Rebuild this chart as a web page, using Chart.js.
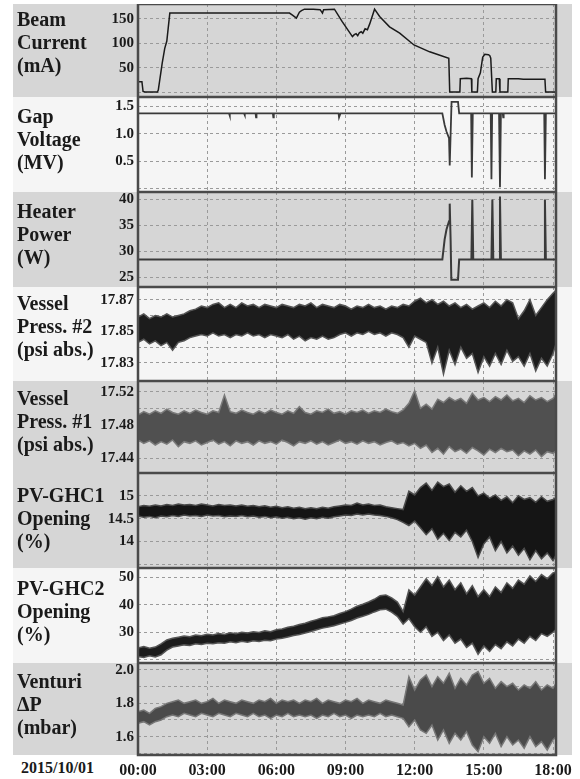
<!DOCTYPE html>
<html><head><meta charset="utf-8">
<script src="https://cdn.jsdelivr.net/npm/chart.js@4.4.1/dist/chart.umd.min.js"></script>
<style>
body{margin:0;background:#fff;width:580px;height:779px;position:relative;overflow:hidden;font-family:"Liberation Serif",serif;}
.panel{position:absolute;left:13px;width:559px;z-index:0}
.lab{position:absolute;left:17px;font:bold 20px/23px "Liberation Serif",serif;color:#1a1a1a;white-space:pre;z-index:2}
canvas{position:absolute;left:13px;z-index:1}
#date{position:absolute;left:21px;top:759px;font:bold 16px "Liberation Serif",serif;color:#1a1a1a}
</style></head><body>
<div id="date">2015/10/01</div>
<script>
// ---------- data ----------
const panelNames = ["Beam\nCurrent\n(mA)","Gap\nVoltage\n(MV)","Heater\nPower\n(W)","Vessel\nPress. #2\n(psi abs.)","Vessel\nPress. #1\n(psi abs.)","PV-GHC1\nOpening\n(%)","PV-GHC2\nOpening\n(%)","Venturi\nΔP\n(mbar)"];
const hourTicks = [0,3,6,9,12,15,18];
const hourLabels = ["00:00","03:00","06:00","09:00","12:00","15:00","18:00"];

const beamT = [0,0.17,0.22,0.3,0.84,0.88,1.05,1.16,1.25,1.38,3.0,5.0,6.57,6.7,6.87,7.0,7.09,7.22,7.6,7.9,8.0,8.05,8.52,8.85,9.30,9.38,9.46,9.53,9.6,9.68,9.75,9.85,9.95,10.05,10.26,10.48,10.91,11.35,11.97,12.65,13.48,13.52,13.96,13.98,14.25,14.46,14.48,14.72,14.75,14.85,14.95,15.04,15.2,15.26,15.3,15.37,15.52,15.54,15.67,15.70,16.04,16.06,16.5,16.71,17.65,17.68,18.13];
const beamV = [22,22,2,1,1,5,60,90,105,162,162,162,162,158,152,164,167,170,170,169,162,169,170,145,114,118,120,116,122,124,121,130,128,140,170,155,134,121,97,83,70,1,1,28,29,28,1,1,28,40,72,78,77,75,70,1,1,28,28,1,1,28,28,27,27,1,1];

const gapT = [0,3.95,3.97,3.99,4.6,4.62,4.64,5.1,5.12,5.14,5.85,5.87,5.89,8.7,8.72,8.76,8.78,13.2,13.3,13.38,13.49,13.52,13.56,13.6,13.88,13.93,14.45,14.48,14.52,15.30,15.33,15.36,15.66,15.70,15.74,15.82,15.84,15.86,17.62,17.65,17.69,18.13];
const gapV = [1.37,1.37,1.33,1.37,1.37,1.34,1.37,1.37,1.30,1.37,1.37,1.30,1.37,1.37,1.30,1.30,1.37,1.37,1.16,1.04,0.92,0.42,1.0,1.58,1.58,1.37,1.37,0.2,1.37,1.37,0.17,1.37,1.37,0.02,1.37,1.37,1.30,1.37,1.37,0.17,1.37,1.37];

const heatT = [0,13.2,13.3,13.38,13.49,13.52,13.56,13.59,13.88,13.93,14.46,14.5,14.54,15.33,15.37,15.41,15.66,15.70,15.74,17.61,17.65,17.69,18.13];
const heatV = [28.4,28.4,32.3,34.2,35.8,39.2,32,24.5,24.5,28.4,28.4,40,28.4,28.4,40,28.4,28.4,40.6,28.4,28.4,40,28.4,28.4];

const times = [0,0.25,0.5,0.75,1,1.25,1.5,1.75,2,2.25,2.5,2.75,3,3.25,3.5,3.75,4,4.25,4.5,4.75,5,5.25,5.5,5.75,6,6.25,6.5,6.75,7,7.25,7.5,7.75,8,8.25,8.5,8.75,9,9.25,9.5,9.75,10,10.25,10.5,10.75,11,11.25,11.5,11.75,12,12.25,12.5,12.75,13,13.25,13.5,13.75,14,14.25,14.5,14.75,15,15.25,15.5,15.75,16,16.25,16.5,16.75,17,17.25,17.5,17.75,18,18.13];

const vp2Hi = [17.859,17.861,17.858,17.860,17.859,17.861,17.859,17.860,17.861,17.863,
17.864,17.866,17.865,17.867,17.868,17.865,17.867,17.865,17.868,17.866,
17.867,17.865,17.867,17.866,17.865,17.867,17.866,17.865,17.867,17.866,
17.868,17.865,17.867,17.866,17.865,17.867,17.866,17.864,17.866,17.865,
17.867,17.865,17.866,17.864,17.866,17.865,17.867,17.866,17.869,17.871,
17.868,17.870,17.867,17.869,17.866,17.868,17.865,17.867,17.864,17.866,
17.868,17.865,17.869,17.866,17.870,17.868,17.858,17.863,17.870,17.860,
17.865,17.870,17.874,17.876];
const vp2Lo = [17.843,17.845,17.842,17.844,17.841,17.843,17.838,17.843,17.844,17.846,
17.847,17.848,17.847,17.849,17.847,17.848,17.846,17.848,17.847,17.849,
17.847,17.848,17.846,17.848,17.847,17.846,17.848,17.845,17.847,17.844,
17.846,17.845,17.847,17.845,17.846,17.848,17.849,17.847,17.849,17.848,
17.850,17.848,17.849,17.847,17.849,17.848,17.846,17.840,17.847,17.845,
17.843,17.830,17.840,17.823,17.838,17.829,17.840,17.833,17.836,17.824,
17.834,17.828,17.836,17.829,17.838,17.831,17.834,17.828,17.836,17.825,
17.833,17.828,17.836,17.842];

const vp1Hi = [17.492,17.496,17.493,17.497,17.494,17.499,17.495,17.493,17.497,17.494,
17.498,17.495,17.493,17.497,17.495,17.516,17.496,17.494,17.498,17.495,
17.493,17.497,17.494,17.498,17.495,17.493,17.497,17.494,17.502,17.495,
17.493,17.497,17.495,17.499,17.494,17.496,17.493,17.497,17.495,17.498,
17.494,17.497,17.495,17.499,17.496,17.494,17.498,17.506,17.521,17.500,
17.505,17.499,17.511,17.507,17.513,17.509,17.512,17.506,17.518,17.510,
17.513,17.508,17.514,17.510,17.516,17.509,17.512,17.507,17.515,17.510,
17.513,17.508,17.512,17.517];
const vp1Lo = [17.462,17.458,17.461,17.456,17.460,17.457,17.462,17.454,17.460,17.458,
17.461,17.456,17.459,17.462,17.457,17.460,17.455,17.461,17.458,17.460,
17.456,17.461,17.458,17.460,17.457,17.462,17.459,17.455,17.460,17.458,
17.461,17.457,17.460,17.456,17.459,17.462,17.458,17.460,17.457,17.461,
17.458,17.460,17.456,17.459,17.461,17.457,17.459,17.455,17.458,17.452,
17.456,17.447,17.452,17.445,17.454,17.448,17.451,17.446,17.453,17.449,
17.444,17.451,17.447,17.452,17.448,17.450,17.443,17.449,17.445,17.450,
17.442,17.448,17.446,17.449];

const ghc1Hi = [14.76,14.79,14.77,14.80,14.78,14.81,14.79,14.82,14.80,14.81,
14.79,14.82,14.80,14.78,14.81,14.79,14.80,14.78,14.80,14.77,
14.79,14.76,14.78,14.75,14.77,14.74,14.76,14.73,14.75,14.72,
14.74,14.72,14.75,14.73,14.76,14.78,14.80,14.79,14.84,14.80,
14.82,14.79,14.80,14.76,14.74,14.72,14.70,15.10,15.02,15.18,
15.28,15.12,15.30,15.20,15.26,15.08,15.22,15.10,15.18,15.00,
15.06,14.95,15.02,14.90,14.98,14.85,15.00,14.92,14.96,14.86,
14.98,14.88,14.92,14.96];
const ghc1Lo = [14.56,14.53,14.55,14.52,14.56,14.54,14.57,14.55,14.58,14.56,
14.57,14.55,14.58,14.56,14.57,14.54,14.56,14.55,14.57,14.54,
14.56,14.53,14.55,14.52,14.54,14.51,14.53,14.50,14.52,14.49,
14.52,14.50,14.53,14.51,14.54,14.56,14.58,14.57,14.60,14.58,
14.60,14.58,14.57,14.55,14.52,14.48,14.42,14.35,14.45,14.30,
14.15,14.28,14.05,14.18,14.02,14.20,14.10,14.25,14.00,13.65,
13.95,14.10,13.80,14.00,13.75,13.90,13.70,13.85,13.60,13.80,
13.62,13.75,13.58,13.70];

const ghc2Hi = [24.3,24.8,24.2,24.6,25.8,27.2,27.8,28.2,28.6,28.4,
29.0,28.7,29.3,29.0,29.5,29.2,29.8,29.5,30.0,29.7,
30.2,29.9,30.5,30.2,30.9,31.2,31.8,32.2,32.8,33.3,
34.0,34.6,35.3,35.6,36.0,36.8,37.5,38.4,39.5,40.2,
41.0,42.0,43.3,43.6,42.5,41.0,37.5,45.4,43.5,46.5,
49.5,47.0,50.2,46.5,49.0,45.5,48.0,44.0,47.0,43.0,
45.5,43.0,46.5,44.5,48.0,46.0,49.0,47.5,50.5,48.5,
51.0,49.5,51.6,52.0];
const ghc2Lo = [21.2,20.8,21.4,21.0,21.8,23.5,24.6,25.0,25.4,25.2,
25.8,25.5,26.0,25.8,26.2,26.0,26.5,26.2,26.7,26.4,
26.9,26.6,27.1,26.9,27.5,27.8,28.3,28.8,29.2,29.7,
30.3,30.9,31.5,31.9,32.4,33.0,33.6,34.3,35.2,35.8,
36.5,37.4,38.2,38.4,37.3,35.8,33.0,35.0,32.0,30.0,
32.0,28.5,30.0,27.0,29.0,26.0,27.5,24.5,26.0,22.0,
25.0,23.0,25.5,24.0,26.5,25.0,27.5,26.0,28.5,27.0,
29.5,28.5,30.0,31.0];

const ventHi = [1.75,1.76,1.74,1.77,1.78,1.80,1.81,1.82,1.80,1.81,
1.82,1.80,1.81,1.83,1.80,1.82,1.81,1.80,1.82,1.81,
1.80,1.82,1.81,1.83,1.80,1.82,1.81,1.82,1.80,1.82,
1.81,1.83,1.80,1.82,1.81,1.80,1.82,1.81,1.83,1.80,
1.82,1.81,1.80,1.82,1.81,1.80,1.79,1.96,1.88,1.94,
1.97,1.90,1.96,1.92,1.98,1.89,1.95,1.91,1.97,1.99,
1.92,1.95,1.89,1.93,1.90,1.92,1.88,1.91,1.89,1.93,
1.88,1.91,1.89,1.92];
const ventLo = [1.68,1.69,1.67,1.69,1.70,1.72,1.73,1.72,1.74,1.73,
1.72,1.74,1.73,1.72,1.74,1.73,1.72,1.74,1.73,1.72,
1.74,1.72,1.73,1.71,1.73,1.72,1.74,1.72,1.73,1.72,
1.73,1.71,1.73,1.72,1.74,1.72,1.73,1.71,1.73,1.72,
1.73,1.72,1.74,1.72,1.73,1.72,1.71,1.66,1.70,1.64,
1.62,1.67,1.58,1.64,1.56,1.62,1.58,1.63,1.55,1.51,
1.60,1.56,1.62,1.54,1.60,1.55,1.58,1.53,1.60,1.54,
1.57,1.52,1.58,1.60];

const gridVals = [[0,50,100,150],[0,0.5,1,1.5],[25,30,35,40],[17.83,17.84,17.85,17.86,17.87],[17.44,17.46,17.48,17.50,17.52],[13.5,14,14.5,15],[20,30,40,50],[1.5,1.6,1.7,1.8,1.9,2.0]];
const gridLabels = [["","50","100","150"],["","0.5","1.0","1.5"],["25","30","35","40"],["17.83","","17.85","","17.87"],["17.44","","17.48","","17.52"],["","14","14.5","15"],["","30","40","50"],["","1.6","","1.8","","2.0"]];

// ---------- layout / style ----------
const G = '#d6d6d6', L = '#f5f5f5';
const panels = [
 {top:4,  h:93, bg:G, lab:7.7,   min:-9.2,    max:180.6,   series:[beamT,beamV], color:'#1a1a1a', w:1.5},
 {top:97, h:95, bg:L, lab:104.7, min:-0.065,  max:1.67,    series:[gapT,gapV],   color:'#3a3a3a', w:1.8},
 {top:192,h:95, bg:G, lab:199.7, min:23.1,    max:41.45,   series:[heatT,heatV], color:'#3a3a3a', w:2},
 {top:287,h:94, bg:L, lab:291.7, min:17.8186, max:17.878,  band:[vp2Lo,vp2Hi],   color:'#1c1c1c', edge:'#555'},
 {top:381,h:92, bg:G, lab:386.7, min:17.4224, max:17.5328, band:[vp1Lo,vp1Hi],   color:'#505050', edge:'#7a7a7a'},
 {top:473,h:95, bg:G, lab:483.7, min:13.42,   max:15.5,    band:[ghc1Lo,ghc1Hi], color:'#151515', edge:'#4a4a4a'},
 {top:568,h:95, bg:L, lab:576.7, min:18.8,    max:53.4,    band:[ghc2Lo,ghc2Hi], color:'#1c1c1c', edge:'#555'},
 {top:663,h:92, bg:G, lab:669.7, min:1.49,    max:2.042,   band:[ventLo,ventHi], color:'#4a4a4a', edge:'#777'}
];

const frame = {id:'frame', afterDraw(c){const a=c.chartArea,x=c.ctx;x.save();x.strokeStyle='#4a4a4a';x.lineWidth=2.5;x.strokeRect(a.left,a.top,a.right-a.left,a.bottom-a.top);x.restore();}};
const tickFont = {family:'Liberation Serif', size:15, weight:'bold'};

panels.forEach((p, k) => {
  const last = k === panels.length - 1;
  const bg = document.createElement('div');
  bg.className = 'panel'; bg.style.top = p.top + 'px'; bg.style.height = p.h + 'px'; bg.style.background = p.bg;
  document.body.appendChild(bg);
  const lab = document.createElement('div');
  lab.className = 'lab'; lab.style.top = p.lab + 'px'; lab.textContent = panelNames[k];
  document.body.appendChild(lab);
  const cv = document.createElement('canvas');
  const ch = last ? p.h + 24 : p.h;
  cv.width = 559; cv.height = ch; cv.style.top = p.top + 'px'; cv.style.width = '559px'; cv.style.height = ch + 'px';
  document.body.appendChild(cv);

  let datasets;
  if (p.series) {
    const [t, v] = p.series;
    datasets = [{data: t.map((x, i) => ({x, y: v[i]})), borderColor: p.color, borderWidth: p.w, pointRadius: 0, fill: false, tension: 0}];
  } else {
    const [lo, hi] = p.band;
    datasets = [
      {data: times.map((x, i) => ({x, y: lo[i]})), borderColor: p.edge, borderWidth: 1.5, pointRadius: 0, fill: false, tension: 0},
      {data: times.map((x, i) => ({x, y: hi[i]})), borderColor: p.edge, borderWidth: 1.5, pointRadius: 0, backgroundColor: p.color, fill: '-1', tension: 0}
    ];
  }
  const gv = gridVals[k], gl = gridLabels[k];
  new Chart(cv, {
    type: 'line',
    data: {datasets},
    plugins: [frame],
    options: {
      responsive: false, animation: false, devicePixelRatio: 1, events: [],
      layout: {padding: {left: 0, right: 16, top: 0, bottom: 0}},
      plugins: {legend: {display: false}, tooltip: {enabled: false}},
      scales: {
        x: {type: 'linear', min: 0, max: 18.13,
            afterBuildTicks: s => { s.ticks = hourTicks.map(v => ({value: v})); },
            afterFit: s => { s.height = last ? 24 : 0; s.paddingLeft = 0; s.paddingRight = 0; },
            ticks: {display: last, autoSkip: false, maxRotation: 0, padding: 6, color: '#1a1a1a',
                    font: {family: 'Liberation Serif', size: 16, weight: 'bold'}, callback: (v, i) => hourLabels[i]},
            grid: {color: '#9a9a9a', lineWidth: 1, drawTicks: false},
            border: {display: false, dash: [3, 3]}},
        y: {min: p.min, max: p.max,
            afterBuildTicks: s => { s.ticks = gv.map(v => ({value: v})); },
            afterFit: s => { s.width = 125; s.paddingTop = 0; s.paddingBottom = 0; },
            ticks: {autoSkip: false, padding: 4, color: '#1a1a1a', font: tickFont, callback: (v, i) => gl[i]},
            grid: {color: '#9a9a9a', lineWidth: 1, drawTicks: false},
            border: {display: false, dash: [3, 3]}}
      }
    }
  });
});
</script>
</body></html>
